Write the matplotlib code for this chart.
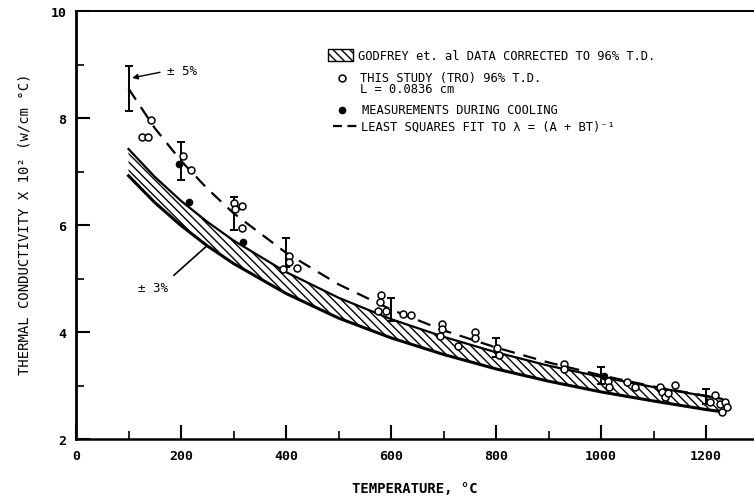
import matplotlib.pyplot as plt

# least squares fit  lambda = (A + BT)^-1
fit_temp = [100, 150, 200, 250, 300, 400, 500, 600, 700, 800, 900, 1000, 1100, 1215]
fit_k = [8.55, 7.81, 7.20, 6.68, 6.22, 5.48, 4.89, 4.42, 4.03, 3.71, 3.43, 3.19, 2.98, 2.78]

# Godfrey et al. data corrected to 96% T.D. (band edges)
band_temp = [100, 150, 200, 250, 300, 400, 500, 600, 700, 800, 900, 1000, 1100, 1200, 1230]
band_hi = [7.42, 6.90, 6.45, 6.06, 5.71, 5.12, 4.64, 4.24, 3.91, 3.62, 3.37, 3.16, 2.97, 2.80, 2.75]
band_lo = [6.92, 6.42, 5.99, 5.61, 5.28, 4.72, 4.26, 3.89, 3.58, 3.31, 3.08, 2.88, 2.71, 2.55, 2.51]

# +-5% bars on the fit
err_temp = [100, 200, 300, 400, 600, 800, 1000, 1200]
err_k = [8.55, 7.20, 6.22, 5.48, 4.42, 3.71, 3.19, 2.80]
err_pct = 5

# this study (TRO), heating
open_temp = [125, 137, 142, 204, 219, 300, 302, 316, 316, 405, 405, 420, 395,
             580, 578, 575, 590, 622, 637, 697, 697, 693, 728, 760, 760, 802, 806,
             930, 930, 1013, 1015, 1050, 1065, 1112, 1116, 1122, 1128, 1140,
             1208, 1217, 1227, 1236, 1240, 1230]
open_k = [7.64, 7.64, 7.97, 7.29, 7.03, 6.42, 6.30, 6.36, 5.94, 5.42, 5.30, 5.20, 5.18,
          4.70, 4.57, 4.40, 4.40, 4.34, 4.32, 4.15, 4.05, 3.93, 3.74, 4.00, 3.88, 3.70, 3.57,
          3.40, 3.31, 3.08, 2.98, 3.07, 2.98, 2.97, 2.88, 2.78, 2.86, 3.01,
          2.69, 2.82, 2.65, 2.69, 2.60, 2.50]

# measurements during cooling
cool_temp = [196, 215, 318, 1005]
cool_k = [7.14, 6.43, 5.68, 3.18]

mono = 'DejaVu Sans Mono'
plt.rcParams['hatch.linewidth'] = 1.0

fig = plt.figure(figsize=(7.54, 5.02), dpi=100)
ax = fig.add_axes([76/754, 1 - 440/502, 678/754, 428/502])

ax.fill_between(band_temp, band_lo, band_hi, facecolor='white', edgecolor='black',
                hatch='\\\\\\\\', linewidth=0)
ax.plot(band_temp, band_hi, color='k', lw=1.6)
ax.plot(band_temp, band_lo, color='k', lw=2.2)
ax.plot(fit_temp, fit_k, color='k', lw=1.6, ls='--', dashes=(6, 4))
ax.errorbar(err_temp, err_k, yerr=[k*err_pct/100 for k in err_k], fmt='none',
            ecolor='k', elinewidth=1.4, capsize=2.6, capthick=1.4)
ax.plot(open_temp, open_k, 'o', mfc='white', mec='k', ms=5, mew=1.1)
ax.plot(cool_temp, cool_k, 'o', color='k', ms=4.5)

ax.annotate('± 5%', xy=(107, 8.75), xytext=(173, 8.88), va='center', ha='left',
            fontfamily=mono, fontsize=9,
            arrowprops=dict(arrowstyle='-|>', color='k', lw=1, mutation_scale=8,
                            relpos=(0, 0.5), shrinkA=3, shrinkB=0))
ax.annotate('± 3%', xy=(248, 5.60), xytext=(118, 4.84), va='center', ha='left',
            fontfamily=mono, fontsize=9,
            arrowprops=dict(arrowstyle='-', color='k', lw=1.2,
                            relpos=(1, 1), shrinkA=3, shrinkB=0))

# legend, drawn by hand in axes coordinates
T = ax.transAxes
ax.fill_between([0.372, 0.409], 0.883, 0.911, transform=T, facecolor='white',
                edgecolor='black', hatch='\\\\\\\\', linewidth=1.0)
ax.plot([0.392], [0.843], 'o', mfc='white', mec='k', ms=5, mew=1.1, transform=T)
ax.plot([0.392], [0.769], 'o', color='k', ms=4.5, transform=T)
ax.plot([0.379, 0.415], [0.731, 0.731], color='k', lw=1.6, ls='--', dashes=(4, 2.5),
        transform=T)
legend_txt = [
    (0.416, 0.897, 'GODFREY et. al DATA CORRECTED TO 96% T.D.'),
    (0.419, 0.845, 'THIS STUDY (TRO) 96% T.D.'),
    (0.419, 0.818, 'L = 0.0836 cm'),
    (0.422, 0.769, 'MEASUREMENTS DURING COOLING'),
    (0.420, 0.731, 'LEAST SQUARES FIT TO λ = (A + BT)⁻¹'),
]
for x, y, s in legend_txt:
    ax.text(x, y, s, transform=T, ha='left', va='center', fontfamily=mono, fontsize=8.7)

ax.set_xlim(0, 1291)
ax.set_ylim(2, 10)
ax.set_xticks(range(0, 1201, 200))
ax.set_xticks(range(100, 1200, 200), minor=True)
ax.set_yticks([2, 4, 6, 8, 10])
ax.set_yticks([3, 5, 7, 9], minor=True)
ax.tick_params(which='major', direction='in', length=10, width=1.5, pad=7)
ax.tick_params(which='minor', direction='in', length=6, width=1.2)
for lab in ax.get_xticklabels() + ax.get_yticklabels():
    lab.set_fontfamily(mono)
    lab.set_fontweight('bold')
    lab.set_fontsize(9.5)

ax.spines['right'].set_visible(False)
ax.spines['top'].set_linewidth(1.4)
ax.spines['left'].set_linewidth(2)
ax.spines['bottom'].set_linewidth(1.8)

ax.set_xlabel('TEMPERATURE, °C', fontfamily=mono, fontweight='bold', fontsize=10)
ax.xaxis.set_label_coords(0.5, -0.098)
ax.set_ylabel('THERMAL CONDUCTIVITY X 10² (w/cm °C)', fontfamily=mono, fontsize=10)
ax.yaxis.set_label_coords(-0.066, 0.505)

fig.savefig('out.png', dpi=100)
